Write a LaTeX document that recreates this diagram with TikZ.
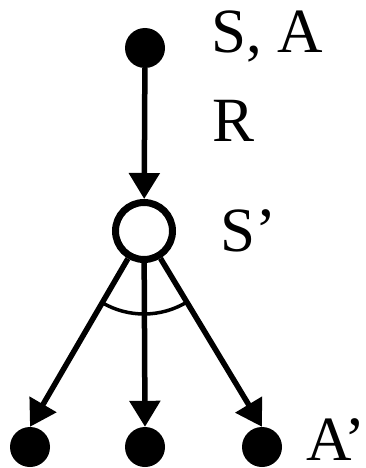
\documentclass[tikz,border=0pt]{standalone}
\usepackage{fontspec}
\setmainfont{Liberation Serif}
\usetikzlibrary{arrows.meta}
\begin{document}
\begin{tikzpicture}[x=1pt,y=-1pt,
  dot/.style={circle,fill=black,minimum size=40pt,inner sep=0pt},
  ring/.style={circle,draw=black,line width=7pt,minimum size=57pt,inner sep=0pt},
  conn/.style={line width=5.5pt,-{Triangle[length=26pt,width=30pt]}},
  lab/.style={anchor=base west,inner sep=0pt,font=\fontsize{63}{70}\selectfont}]
\useasboundingbox (0,0) rectangle (366,468);
\node[dot] (top) at (145,48) {};
\node[ring] (mid) at (144,231) {};
\node[dot] (b1) at (30,447) {};
\node[dot] (b2) at (145,447) {};
\node[dot] (b3) at (262,447) {};
\node[lab] (lsa) at (211,53) {S, A};
\node[lab] (lr) at (212,142) {R};
\node[lab] (ls) at (220,251) {S’};
\node[lab] (la) at (306,460) {A’};
\draw[conn] (top) -- (mid);
\draw[conn] (mid) -- (b1.north);
\draw[conn] (mid) -- (b2.north);
\draw[conn] (mid) -- (b3.north);
\draw[line width=3.5pt] (mid.center) ++(58.9:83) arc[start angle=58.9,end angle=120.2,radius=83];
\end{tikzpicture}
\end{document}
